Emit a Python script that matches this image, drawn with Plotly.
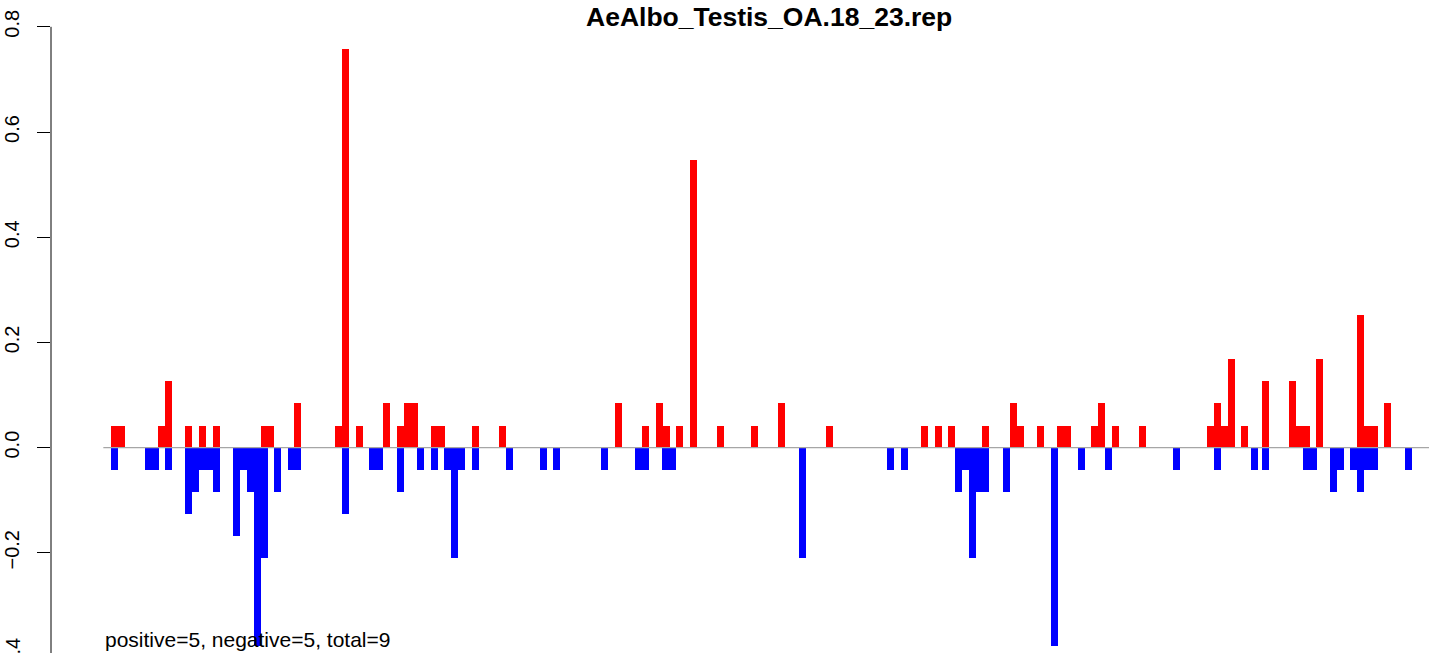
import plotly.graph_objects as go

# ---- data ----
title_text = "AeAlbo_Testis_OA.18_23.rep"
note_text = "positive=5, negative=5, total=9"

red_pos = [0.5, 1.5, 7.36, 8.38, 11.35, 13.35, 15.39,
           22.35, 23.32, 27.22,
           33.2, 34.22, 36.27,
           40.21, 42.25, 43.27, 44.25,
           47.22, 48.24, 53.2, 57.14,
           74.08, 78.02, 80.06, 81.08, 82.98, 85.03, 88.97, 93.93, 97.87,
           104.88, 118.75, 120.79, 122.69, 127.65,
           131.74, 132.76, 135.68, 138.6, 139.62,
           143.57, 144.59, 146.63, 150.57,
           160.5, 161.52, 162.54, 163.57, 165.46, 168.53,
           172.47, 173.49, 174.51, 176.41,
           182.4, 183.42, 184.44, 186.34]
red_val = [0.042, 0.042, 0.042, 0.126, 0.042, 0.042, 0.042,
           0.042, 0.042, 0.084,
           0.042, 0.757, 0.042,
           0.084, 0.042, 0.084, 0.084,
           0.042, 0.042, 0.042, 0.042,
           0.084, 0.042, 0.084, 0.042, 0.042, 0.547, 0.042, 0.042, 0.084,
           0.042, 0.042, 0.042, 0.042, 0.042,
           0.084, 0.042, 0.042, 0.042, 0.042,
           0.042, 0.084, 0.042, 0.042,
           0.042, 0.084, 0.042, 0.168, 0.042, 0.126,
           0.126, 0.042, 0.042, 0.168,
           0.252, 0.042, 0.042, 0.084]

blue_pos = [0.5, 5.46, 6.45, 8.38,
            11.35, 12.32, 13.35, 14.37, 15.39,
            18.35, 19.33, 20.35, 21.38, 22.35,
            24.3, 26.34, 27.27, 34.22,
            38.21, 39.19, 42.25, 45.17, 47.22,
            49.11, 50.14, 51.16, 53.2, 58.12,
            63.13, 65.03, 72.03, 77.0, 78.02, 81.0, 81.96,
            100.94, 113.78, 115.83,
            123.71, 124.73, 125.76, 126.78, 127.72,
            130.72, 137.73, 141.67, 145.61, 155.54,
            161.52, 166.98, 168.53, 174.51, 175.54,
            178.46, 179.48, 181.38, 182.4, 183.42, 184.44, 189.41]
blue_val = [-0.042, -0.042, -0.042, -0.042,
            -0.126, -0.084, -0.042, -0.042, -0.084,
            -0.168, -0.042, -0.084, -0.378, -0.21,
            -0.084, -0.042, -0.042, -0.126,
            -0.042, -0.042, -0.084, -0.042, -0.042,
            -0.042, -0.21, -0.042, -0.042, -0.042,
            -0.042, -0.042, -0.042, -0.042, -0.042, -0.042, -0.042,
            -0.21, -0.042, -0.042,
            -0.084, -0.042, -0.21, -0.084, -0.084,
            -0.084, -0.378, -0.042, -0.042, -0.042,
            -0.042, -0.042, -0.042, -0.042, -0.042,
            -0.084, -0.042, -0.042, -0.084, -0.042, -0.042, -0.042]

y_tickvals = [-0.2, 0.0, 0.2, 0.4, 0.6, 0.8]
y_ticktext = ["\u22120.2", "0.0", "0.2", "0.4", "0.6", "0.8"]
cut_tick_val = -0.4
cut_tick_text = "\u22120.4"

# ---- layout constants ----
W, H = 1429, 653
ML = 51
X_RANGE = [-8.76, 192.41]
Y_RANGE = [-0.3905, 0.851]
FONT = "Liberation Sans, Arial, Helvetica, sans-serif"

fig = go.Figure()
fig.add_trace(go.Bar(x=red_pos, y=red_val, width=1.0,
                     marker=dict(color="#FF0000", line=dict(width=0)),
                     showlegend=False, hoverinfo="x+y"))
fig.add_trace(go.Bar(x=blue_pos, y=blue_val, width=1.0,
                     marker=dict(color="#0000FF", line=dict(width=0)),
                     showlegend=False, hoverinfo="x+y"))

# zero reference line (gray), drawn over bars
fig.add_shape(type="line", xref="x", yref="y", x0=-1.12, x1=X_RANGE[1], y0=0, y1=0,
              line=dict(color="#A6A6A6", width=1.4), layer="above")
# y axis line from -0.4 to 0.8
fig.add_shape(type="line", xref="paper", yref="y", x0=0, x1=0, y0=-0.4, y1=0.8,
              line=dict(color="black", width=1), layer="above")

def py(px):
    return 1 - px / H

def pxx(px):
    return (px - ML) / (W - ML)

annotations = [
    dict(text="<b>" + title_text + "</b>", x=pxx(768.6), y=py(17.3), xref="paper", yref="paper",
         xanchor="center", yanchor="middle", showarrow=False,
         font=dict(family=FONT, size=26.5, color="black")),
    dict(text=note_text, x=pxx(103.0), y=py(639.3), xref="paper", yref="paper",
         xanchor="left", yanchor="middle", showarrow=False,
         font=dict(family=FONT, size=21, color="black")),
]
fig.update_layout(annotations=annotations)

fig.update_layout(
    width=W, height=H,
    margin=dict(l=ML, r=0, t=0, b=0, pad=0),
    paper_bgcolor="white", plot_bgcolor="white",
    barmode="overlay", bargap=0,
    xaxis=dict(range=X_RANGE, visible=False, showgrid=False, zeroline=False, fixedrange=True),
    yaxis=dict(range=Y_RANGE, tickvals=y_tickvals, ticktext=y_ticktext,
               ticks="outside", ticklen=13, tickwidth=1, tickcolor="black",
               tickangle=-90, ticklabelstandoff=10,
               tickfont=dict(family=FONT, size=20, color="black"),
               showgrid=False, zeroline=False, showline=False, fixedrange=True,
               automargin=False),
)

# partially visible bottom tick label (-0.4), cut off by the image edge like in the reference
y0px = 447.6
ppu = 526.0
fig.add_annotation(text=cut_tick_text, x=pxx(13.4), y=py(y0px - cut_tick_val * ppu),
                   xref="paper", yref="paper", xanchor="center", yanchor="middle",
                   textangle=-90, showarrow=False,
                   font=dict(family=FONT, size=20, color="black"))

fig.write_html("out.html",
               config={"displayModeBar": False},
               post_script="document.body.style.margin='0px';document.body.style.overflow='hidden';")
